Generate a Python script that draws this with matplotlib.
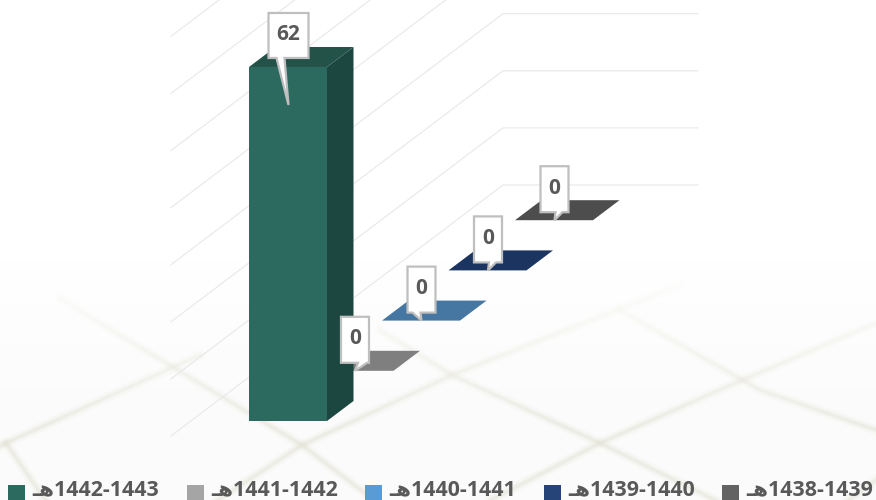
import numpy as np
import matplotlib
matplotlib.use('Agg')
import matplotlib.pyplot as plt
from matplotlib.patches import Polygon, Rectangle

# data
categories = ['1442-1443', '1441-1442', '1440-1441', '1439-1440', '1438-1439']
values = [62, 0, 0, 0, 0]
grid_values = [0, 10, 20, 30, 40, 50, 60, 70]
front_colors = ['#2c6a5f', '#a5a5a5', '#5b9bd5', '#264478', '#636363']
side_colors = ['#1c4740', '#666666', '#38618a', '#172b4c', '#3e3e3e']
top_colors = ['#235249', '#7f7f7f', '#4676a2', '#1b3560', '#4d4d4d']

W, H = 876, 500
STEP_X, STEP_Y = 66.5, 50.2      # shift of one category into the depth
PX_PER_UNIT = 5.71
BAR_X0, BASE_Y = 249, 421
BAR_W = 78
DEPTH_X, DEPTH_Y = 26.5, 20


def vy(v):
    return v * PX_PER_UNIT


fig = plt.figure(figsize=(W / 100, H / 100), dpi=100)
ax = fig.add_axes([0, 0, 1, 1])
ax.axis('off')


def to_y(py):
    return BASE_Y - py


# background: pale floor tiles, fading out towards the top
shade = np.ones((H, 1, 3)) * 0.985
ax.imshow(shade, extent=[0, W, to_y(H), to_y(0)], aspect='auto', zorder=0)
tile_lines = [
    [(-40, 470), (6, 443), (200, 355)],
    [(60, 298), (95, 320), (302, 445), (374, 500)],
    [(218, 500), (302, 445), (452, 375), (680, 285)],
    [(6, 443), (45, 500)],
    [(380, 330), (452, 375), (600, 443), (715, 500)],
    [(491, 500), (600, 443), (726, 387), (876, 323)],
    [(620, 310), (760, 390), (876, 430)],
    [(849, 500), (876, 480)],
]
for line in tile_lines:
    xs, ys = zip(*line)
    ys = [to_y(y) for y in ys]
    for lw, a in [(7, 0.12), (4, 0.18), (1.8, 0.25)]:
        ax.plot(xs, ys, color='#dedccb', lw=lw, alpha=a, zorder=0.5)
# white veil over the upper part of the floor
veil = np.ones((H, 1, 4))
veil[:, 0, 3] = np.clip((430 - np.arange(H)) / 170, 0, 1)
ax.imshow(veil, extent=[0, W, to_y(H), to_y(0)], aspect='auto', zorder=0.6)
ax.set_xlim(0, W)
ax.set_ylim(BASE_Y - H, BASE_Y)

# gridlines: slanted over the floor, flat on the back wall
GRID_X0, GRID_X1, GRID_END = 171, 503, 698
for g in grid_values:
    y0 = to_y(436) + vy(g)
    y1 = y0 + 251
    ax.plot([GRID_X0, GRID_X1, GRID_END], [y0, y1, y1], color='#e8e8e8', lw=0.8, zorder=1)

# bars, back ones first
for i in reversed(range(len(values))):
    x0 = BAR_X0 + i * STEP_X
    b = i * STEP_Y
    top = b + vy(values[i])
    z = 2 + (len(values) - i)
    if values[i] > 0:
        ax.bar(x0, vy(values[i]), BAR_W, bottom=b, align='edge', color=front_colors[i],
               linewidth=0, zorder=z + 0.2)
    ax.add_patch(Polygon([(x0 + BAR_W, b), (x0 + BAR_W + DEPTH_X, b + DEPTH_Y),
                          (x0 + BAR_W + DEPTH_X, top + DEPTH_Y), (x0 + BAR_W, top)],
                         closed=True, fc=side_colors[i], ec='none', zorder=z))
    ax.add_patch(Polygon([(x0, top), (x0 + BAR_W, top), (x0 + BAR_W + DEPTH_X, top + DEPTH_Y),
                          (x0 + DEPTH_X, top + DEPTH_Y)],
                         closed=True, fc=top_colors[i], ec='none', zorder=z + 0.1))

# value callouts
for i, v in enumerate(values):
    cx = BAR_X0 + BAR_W / 2 + i * STEP_X + 0.5
    tip = i * STEP_Y + vy(v) - (38 if v else 0)
    if v > 0:
        left, right = cx - 20, cx + 20
        low, high = tip + 47, tip + 92
        base = (left + 8, left + 16)
    else:
        left, right = cx - 14, cx + 14
        low, high = tip + 8, tip + 54
        base = (left + 5, left + 13) if i < 3 else (left + 15, left + 22)
        if i == 1:
            base = (left + 17, left + 26)
    pts = [(left, low), (base[0], low), (cx, tip), (base[1], low), (right, low),
           (right, high), (left, high)]
    ax.add_patch(Polygon(pts, closed=True, fc='white', ec='#bfbfbf', lw=1.6, zorder=20,
                         joinstyle='miter'))
    ax.text((left + right) / 2, (low + high) / 2 + 1, str(v), ha='center', va='center',
            family='Open Sans', fontweight='bold', fontsize=15, color='#595959', zorder=21)

# legend
legend_x = [8, 187, 365, 544, 722]
for x, c, lab in zip(legend_x, front_colors, categories):
    ax.add_patch(Rectangle((x, to_y(500)), 17, 15, fc=c, ec='none', zorder=5))
    ax.text(x + 24, to_y(490), '\u0640\ufeeb' + lab, ha='left', va='center',
            family=['Open Sans', 'DejaVu Sans'], fontweight='bold', fontsize=15.4,
            color='#595959', zorder=5)

fig.savefig('out.png', dpi=100)
